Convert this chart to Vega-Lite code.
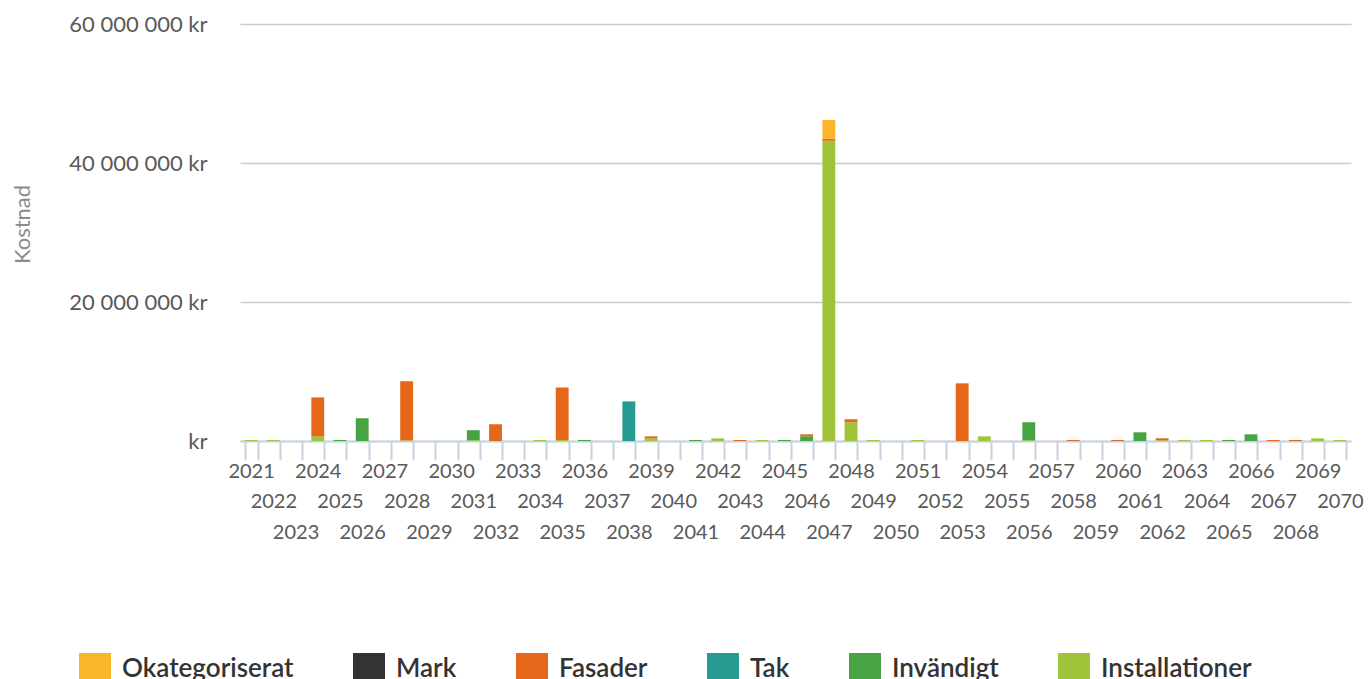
{
  "$schema": "https://vega.github.io/schema/vega-lite/v6.json",
  "width": 1111,
  "height": 417,
  "autosize": {"type": "none"},
  "padding": {"left": 240, "top": 24, "right": 18, "bottom": 238},
  "background": "white",
  "config": {
    "view": {"stroke": null},
    "font": "Lato"
  },
  "data": {
    "values": [
      {"year": "2021", "kat": "Installationer", "ordning": 1, "value": 150000},
      {"year": "2022", "kat": "Installationer", "ordning": 1, "value": 150000},
      {"year": "2024", "kat": "Installationer", "ordning": 1, "value": 670000},
      {"year": "2024", "kat": "Fasader", "ordning": 4, "value": 5600000},
      {"year": "2025", "kat": "Invändigt", "ordning": 2, "value": 150000},
      {"year": "2026", "kat": "Invändigt", "ordning": 2, "value": 3260000},
      {"year": "2028", "kat": "Installationer", "ordning": 1, "value": 100000},
      {"year": "2028", "kat": "Fasader", "ordning": 4, "value": 8500000},
      {"year": "2031", "kat": "Installationer", "ordning": 1, "value": 100000},
      {"year": "2031", "kat": "Invändigt", "ordning": 2, "value": 1450000},
      {"year": "2032", "kat": "Fasader", "ordning": 4, "value": 2400000},
      {"year": "2034", "kat": "Installationer", "ordning": 1, "value": 150000},
      {"year": "2035", "kat": "Installationer", "ordning": 1, "value": 150000},
      {"year": "2035", "kat": "Fasader", "ordning": 4, "value": 7550000},
      {"year": "2036", "kat": "Invändigt", "ordning": 2, "value": 150000},
      {"year": "2038", "kat": "Tak", "ordning": 3, "value": 5700000},
      {"year": "2039", "kat": "Installationer", "ordning": 1, "value": 380000},
      {"year": "2039", "kat": "Fasader", "ordning": 4, "value": 290000},
      {"year": "2041", "kat": "Invändigt", "ordning": 2, "value": 150000},
      {"year": "2042", "kat": "Installationer", "ordning": 1, "value": 380000},
      {"year": "2043", "kat": "Fasader", "ordning": 4, "value": 150000},
      {"year": "2044", "kat": "Installationer", "ordning": 1, "value": 150000},
      {"year": "2045", "kat": "Invändigt", "ordning": 2, "value": 150000},
      {"year": "2046", "kat": "Invändigt", "ordning": 2, "value": 670000},
      {"year": "2046", "kat": "Fasader", "ordning": 4, "value": 290000},
      {"year": "2047", "kat": "Installationer", "ordning": 1, "value": 43200000},
      {"year": "2047", "kat": "Fasader", "ordning": 4, "value": 300000},
      {"year": "2047", "kat": "Okategoriserat", "ordning": 6, "value": 2700000},
      {"year": "2048", "kat": "Installationer", "ordning": 1, "value": 2700000},
      {"year": "2048", "kat": "Fasader", "ordning": 4, "value": 430000},
      {"year": "2049", "kat": "Installationer", "ordning": 1, "value": 150000},
      {"year": "2051", "kat": "Installationer", "ordning": 1, "value": 150000},
      {"year": "2053", "kat": "Fasader", "ordning": 4, "value": 8300000},
      {"year": "2054", "kat": "Installationer", "ordning": 1, "value": 670000},
      {"year": "2056", "kat": "Installationer", "ordning": 1, "value": 100000},
      {"year": "2056", "kat": "Invändigt", "ordning": 2, "value": 2600000},
      {"year": "2058", "kat": "Fasader", "ordning": 4, "value": 150000},
      {"year": "2060", "kat": "Fasader", "ordning": 4, "value": 150000},
      {"year": "2061", "kat": "Invändigt", "ordning": 2, "value": 1250000},
      {"year": "2062", "kat": "Installationer", "ordning": 1, "value": 100000},
      {"year": "2062", "kat": "Fasader", "ordning": 4, "value": 290000},
      {"year": "2063", "kat": "Installationer", "ordning": 1, "value": 150000},
      {"year": "2064", "kat": "Installationer", "ordning": 1, "value": 150000},
      {"year": "2065", "kat": "Invändigt", "ordning": 2, "value": 150000},
      {"year": "2066", "kat": "Invändigt", "ordning": 2, "value": 960000},
      {"year": "2067", "kat": "Fasader", "ordning": 4, "value": 150000},
      {"year": "2068", "kat": "Fasader", "ordning": 4, "value": 150000},
      {"year": "2069", "kat": "Installationer", "ordning": 1, "value": 380000},
      {"year": "2070", "kat": "Installationer", "ordning": 1, "value": 150000}
    ]
  },
  "mark": {"type": "bar"},
  "encoding": {
    "x": {
      "field": "year",
      "type": "ordinal",
      "scale": {
        "domain": ["2021","2022","2023","2024","2025","2026","2027","2028","2029","2030","2031","2032","2033","2034","2035","2036","2037","2038","2039","2040","2041","2042","2043","2044","2045","2046","2047","2048","2049","2050","2051","2052","2053","2054","2055","2056","2057","2058","2059","2060","2061","2062","2063","2064","2065","2066","2067","2068","2069","2070"],
        "paddingInner": 0.42,
        "paddingOuter": 0.21
      },
      "axis": {
        "title": null,
        "domainColor": "#c5d3e3",
        "domainWidth": 2,
        "ticks": true,
        "tickBand": "extent",
        "tickColor": "#c5d3e3",
        "tickWidth": 2,
        "tickSize": 19,
        "labelAngle": 0,
        "labelFont": "Lato",
        "labelFontSize": 20,
        "labelColor": "#595959",
        "labelPadding": {"condition": {"test": "(toNumber(datum.value) - 2021) % 3 == 2", "value": 31.5}, "value": 1},
        "labelBaseline": "top",
        "labelLineHeight": 30.5,
        "labelOverlap": false,
        "labelBound": false,
        "labelExpr": "(toNumber(datum.value) - 2021) % 3 == 0 ? datum.label : ['\u00a0', datum.label]"
      }
    },
    "y": {
      "field": "value",
      "type": "quantitative",
      "stack": "zero",
      "scale": {"domain": [0, 60000000], "nice": false},
      "axis": {
        "title": "Kostnad",
        "titleFont": "Lato",
        "titleFontSize": 22,
        "titleFontWeight": "normal",
        "titleColor": "#8c8c8c",
        "titleX": -218,
        "titleY": 200,
        "titleAngle": -90,
        "titleAlign": "center",
        "titleBaseline": "middle",
        "values": [0, 20000000, 40000000, 60000000],
        "domain": false,
        "ticks": false,
        "grid": true,
        "gridColor": "#cccccc",
        "gridWidth": 1.6,
        "labelFont": "Lato",
        "labelFontSize": 22,
        "labelColor": "#595959",
        "labelPadding": 33,
        "labelExpr": "datum.value == 0 ? 'kr' : replace(replace(format(datum.value, ','), ',', ' '), ',', ' ') + ' kr'"
      }
    },
    "order": {"field": "ordning", "type": "quantitative", "sort": "ascending"},
    "color": {
      "field": "kat",
      "type": "nominal",
      "scale": {
        "domain": ["Okategoriserat", "Mark", "Fasader", "Tak", "Invändigt", "Installationer"],
        "range": ["#fbb52b", "#333333", "#e5681a", "#259b91", "#46a443", "#9fc43a"]
      },
      "legend": {
        "title": null,
        "orient": "none",
        "direction": "horizontal",
        "legendX": -161,
        "legendY": 629,
        "padding": 0,
        "symbolType": "square",
        "symbolSize": 1024,
        "symbolStrokeWidth": 0,
        "symbolOpacity": 1,
        "labelFont": "Lato",
        "labelFontSize": 26,
        "labelFontWeight": 600,
        "labelColor": "#333333",
        "labelOffset": 11,
        "columnPadding": 59,
        "labelLimit": 400
      }
    }
  }
}
